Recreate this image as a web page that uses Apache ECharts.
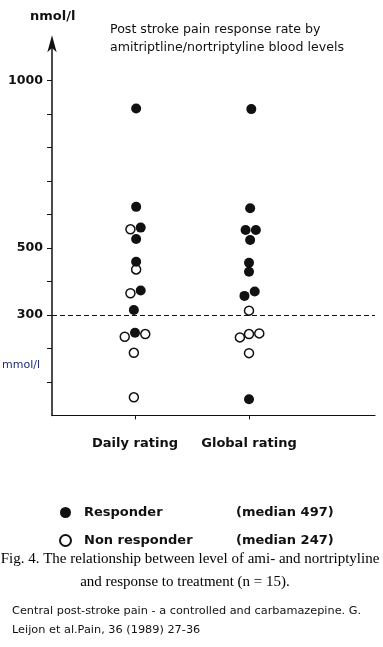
<!DOCTYPE html>
<html>
<head>
<meta charset="utf-8">
<script src="https://cdn.jsdelivr.net/npm/echarts@6/dist/echarts.min.js"></script>
<style>
html,body{margin:0;padding:0;background:#fff;}
#chart{width:383px;height:647px;}
</style>
</head>
<body>
<div id="chart"></div>
<script>
// ---- data ----
const categories = ['Daily rating', 'Global rating'];
const categoryPos = [1, 2];
const seriesNames = ['Responder', 'Non responder'];
const medians = [497, 247];
const yTickValues = [100, 200, 300, 400, 500, 600, 700, 800, 900, 1000];
const yLabelValues = [300, 500, 1000];
const threshold = 300;

// Daily rating column (x = category position with jitter, y = nmol/l)
const dailyRespX = [1.01, 1.01, 1.05, 1.01, 1.01, 1.05, 0.99, 1.00];
const dailyRespY = [917, 623, 561, 527, 459, 373, 315, 247];
const dailyNonX  = [0.96, 1.01, 0.96, 1.09, 0.91, 0.99, 0.99];
const dailyNonY  = [556, 436, 365, 243, 235, 187, 54];
// Global rating column
const globalRespX = [2.02, 2.01, 1.97, 2.06, 2.01, 2.00, 2.00, 2.05, 1.96, 2.00];
const globalRespY = [915, 619, 554, 554, 524, 456, 429, 370, 357, 48];
const globalNonX  = [2.00, 2.09, 2.00, 1.92, 2.00];
const globalNonY  = [313, 245, 243, 233, 186];

const titleLines = ['Post stroke pain response rate by', 'amitriptline/nortriptyline blood levels'];
const captionLines = ['Fig. 4. The relationship between level of ami- and nortriptyline', 'and response to treatment (n = 15).'];
const sourceLines = ['Central post-stroke pain - a controlled and carbamazepine. G.', 'Leijon et al.Pain, 36 (1989) 27-36'];

function zip(xs, ys) { return xs.map((x, i) => [x, ys[i]]); }
const respData = zip(dailyRespX, dailyRespY).concat(zip(globalRespX, globalRespY));
const nonData = zip(dailyNonX, dailyNonY).concat(zip(globalNonX, globalNonY));

const chart = echarts.init(document.getElementById('chart'), null, {renderer: 'canvas'});
const bold = 'DejaVu Sans';

chart.setOption({
  animation: false,
  backgroundColor: '#fff',
  title: {
    text: titleLines.join('\n'),
    left: 110, top: 21, padding: 0,
    textStyle: {fontFamily: 'DejaVu Sans', fontSize: 12.6, fontWeight: 'normal', color: '#111', lineHeight: 18}
  },
  grid: {left: 52, right: 8, top: 47.2, bottom: 231.6, containLabel: false},
  xAxis: {
    type: 'value', min: 0.272, max: 3.105,
    splitLine: {show: false},
    axisLine: {show: true, lineStyle: {color: '#111', width: 1.2}},
    axisTick: {show: true, customValues: categoryPos, length: 4, lineStyle: {color: '#111', width: 1}},
    axisLabel: {
      customValues: categoryPos, margin: 22,
      formatter: v => categories[categoryPos.indexOf(v)] || '',
      fontFamily: bold, fontWeight: 'bold', fontSize: 13, color: '#111'
    }
  },
  yAxis: {
    type: 'value', min: 0, max: 1100,
    splitLine: {show: false},
    axisLine: {show: true, symbol: ['none', 'arrow'], symbolSize: [7, 17], symbolOffset: [0, 12], lineStyle: {color: '#111', width: 1.5}},
    axisTick: {show: true, customValues: yTickValues, length: 5, lineStyle: {color: '#111', width: 1}},
    axisLabel: {
      customValues: yLabelValues, margin: 9,
      formatter: v => String(v),
      fontFamily: bold, fontWeight: 'bold', fontSize: 12.6, color: '#111'
    }
  },
  legend: {
    orient: 'vertical', left: 54, top: 501, itemGap: 15,
    itemWidth: 11, itemHeight: 11, icon: 'circle',
    data: seriesNames,
    formatter: name => '{n|' + name + '}{m|(median ' + medians[seriesNames.indexOf(name)] + ')}',
    textStyle: {
      fontFamily: bold, fontWeight: 'bold', fontSize: 13, color: '#111', padding: [0, 0, 0, 8],
      rich: {
        n: {fontFamily: bold, fontWeight: 'bold', fontSize: 13, color: '#111', width: 152},
        m: {fontFamily: bold, fontWeight: 'bold', fontSize: 13, color: '#111'}
      }
    }
  },
  graphic: [
    {type: 'text', left: 30, top: 10, style: {text: 'nmol/l', font: 'bold 13px "DejaVu Sans"', fill: '#111'}},
    {type: 'text', left: 2, top: 360, style: {text: 'mmol/l', font: '11px "DejaVu Sans"', fill: '#1c2a78'}},
    {type: 'text', x: 190, y: 552, style: {text: captionLines[0], font: '15px "Liberation Serif"', fill: '#000', textAlign: 'center'}},
    {type: 'text', x: 185, y: 575, style: {text: captionLines[1], font: '15px "Liberation Serif"', fill: '#000', textAlign: 'center'}},
    {type: 'text', left: 12, top: 606, style: {text: sourceLines[0], font: '11.3px "DejaVu Sans"', fill: '#111'}},
    {type: 'text', left: 12, top: 625, style: {text: sourceLines[1], font: '11.3px "DejaVu Sans"', fill: '#111'}}
  ],
  series: [
    {
      name: seriesNames[1], type: 'scatter', data: nonData, symbol: 'circle', symbolSize: 9,
      itemStyle: {color: '#fff', borderColor: '#111', borderWidth: 1.5, opacity: 1},
      z: 2,
      markLine: {
        silent: true, symbol: ['none', 'none'], label: {show: false},
        lineStyle: {color: '#111', type: [5, 3], width: 1},
        data: [{yAxis: threshold}]
      }
    },
    {
      name: seriesNames[0], type: 'scatter', data: respData, symbol: 'circle', symbolSize: 10,
      itemStyle: {color: '#111', opacity: 1},
      z: 3
    }
  ]
});
</script>
</body>
</html>
